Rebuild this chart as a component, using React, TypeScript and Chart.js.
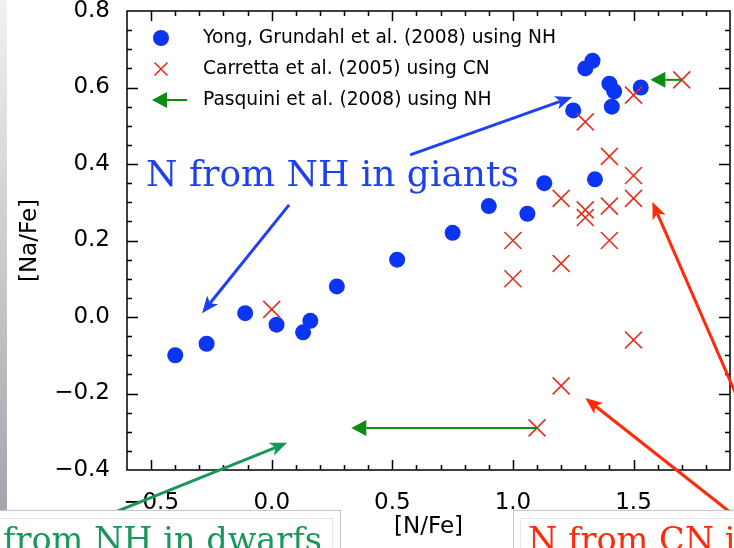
import { useEffect, useRef } from "react";
import { Chart, registerables } from "chart.js";

Chart.register(...registerables);

const W = 734;
const H = 548;

// Yong, Grundahl et al. (2008): [N/Fe] from NH, giants
const yongN = [-0.40, -0.27, -0.11, 0.02, 0.13, 0.16, 0.27, 0.52, 0.75, 0.90, 1.06, 1.13, 1.34, 1.25, 1.30, 1.33, 1.40, 1.42, 1.41, 1.53];
const yongNa = [-0.10, -0.07, 0.01, -0.02, -0.04, -0.01, 0.08, 0.15, 0.22, 0.29, 0.27, 0.35, 0.36, 0.54, 0.65, 0.67, 0.61, 0.59, 0.55, 0.60];

// Carretta et al. (2005): [N/Fe] from CN
const carrettaN = [0.00, 1.00, 1.00, 1.10, 1.20, 1.20, 1.20, 1.30, 1.30, 1.30, 1.40, 1.40, 1.40, 1.50, 1.50, 1.50, 1.50, 1.70];
const carrettaNa = [0.02, 0.20, 0.10, -0.29, 0.31, 0.14, -0.18, 0.51, 0.28, 0.26, 0.42, 0.29, 0.20, 0.58, 0.37, 0.31, -0.06, 0.62];

// Pasquini et al. (2008): upper limits on [N/Fe] from NH in dwarfs
const pasquiniN = [1.70, 1.10];
const pasquiniNa = [0.62, -0.29];
const pasquiniLimitN = [1.57, 0.33];

const seriesLabels = [
  "Yong, Grundahl et al. (2008) using NH",
  "Carretta et al. (2005) using CN",
  "Pasquini et al. (2008) using NH",
];

const xRange = [-0.6, 1.9];
const yRange = [-0.4, 0.8];
const xMajorTicks = [-0.5, 0.0, 0.5, 1.0, 1.5];
const yMajorTicks = [-0.4, -0.2, 0.0, 0.2, 0.4, 0.6, 0.8];
const xMinorStep = 0.1;
const yMinorStep = 0.05;

const noteGiants = "N from NH in giants";
const noteDwarfs = "from NH in dwarfs";
const noteCN = "N from CN in giants";

const BLUE_DOT = "#0b35f2";
const RED_CROSS = "#e3301f";
const GREEN_LIMIT = "#0c8c12";
const NOTE_BLUE = "#1f40f2";
const NOTE_GREEN = "#17975a";
const NOTE_RED = "#ff2a0a";

const SANS = '"DejaVu Sans", sans-serif';
const SERIF = '"DejaVu Serif", serif';

// callout arrows, in data units (they may run past the frame)
type Callout = { from: [number, number]; to: [number, number]; color: string };
const callouts: Callout[] = [
  { from: [0.072, 0.293], to: [-0.289, 0.01], color: NOTE_BLUE },
  { from: [0.574, 0.424], to: [1.246, 0.575], color: NOTE_BLUE },
  { from: [-0.65, -0.51], to: [0.064, -0.329], color: NOTE_GREEN },
  { from: [1.944, -0.23], to: [1.578, 0.301], color: NOTE_RED },
  { from: [1.94, -0.53], to: [1.3, -0.212], color: NOTE_RED },
];

const fmt = (v: number) => (v < -1e-9 ? "\u2212" : "") + Math.abs(v).toFixed(1);

function fitSize(ctx: CanvasRenderingContext2D, text: string, family: string, target: number) {
  ctx.font = `100px ${family}`;
  return (100 * target) / ctx.measureText(text).width;
}

function drawArrow(
  ctx: CanvasRenderingContext2D,
  x1: number, y1: number, x2: number, y2: number,
  color: string, lw: number, headLen: number, headHalf: number, notch: number
) {
  const a = Math.atan2(y2 - y1, x2 - x1);
  const c = Math.cos(a);
  const s = Math.sin(a);
  const bx = x2 - headLen * c;
  const by = y2 - headLen * s;
  const nx = x2 - headLen * notch * c;
  const ny = y2 - headLen * notch * s;
  ctx.save();
  ctx.strokeStyle = color;
  ctx.fillStyle = color;
  ctx.lineWidth = lw;
  ctx.beginPath();
  ctx.moveTo(x1, y1);
  ctx.lineTo(nx, ny);
  ctx.stroke();
  ctx.beginPath();
  ctx.moveTo(x2, y2);
  ctx.lineTo(bx - headHalf * s, by + headHalf * c);
  ctx.lineTo(nx, ny);
  ctx.lineTo(bx + headHalf * s, by - headHalf * c);
  ctx.closePath();
  ctx.fill();
  ctx.restore();
}

const slidePlugin = {
  id: "slide",
  beforeDraw(chart: any) {
    const ctx: CanvasRenderingContext2D = chart.ctx;
    ctx.save();
    ctx.fillStyle = "#fff";
    ctx.fillRect(0, 0, W, H);
    const g = ctx.createLinearGradient(0, 0, 0, 510);
    g.addColorStop(0, "#f1f1f3");
    g.addColorStop(1, "#a4a4ab");
    ctx.fillStyle = g;
    ctx.fillRect(0, 0, 7, 510);
    ctx.restore();
  },
  afterDatasetsDraw(chart: any) {
    const ctx: CanvasRenderingContext2D = chart.ctx;
    const xs = chart.scales.x;
    const ys = chart.scales.y;
    pasquiniN.forEach((n, i) => {
      const y = ys.getPixelForValue(pasquiniNa[i]);
      drawArrow(ctx, xs.getPixelForValue(n), y, xs.getPixelForValue(pasquiniLimitN[i]), y, GREEN_LIMIT, 2, 15, 8, 1);
    });
  },
  afterDraw(chart: any) {
    const ctx: CanvasRenderingContext2D = chart.ctx;
    const xs = chart.scales.x;
    const ys = chart.scales.y;
    const { left, right, top, bottom } = chart.chartArea;

    ctx.save();
    // frame and inward ticks on all four sides
    ctx.strokeStyle = "#000";
    ctx.lineWidth = 1.5;
    ctx.strokeRect(left, top, right - left, bottom - top);
    ctx.beginPath();
    for (let i = 1; ; i++) {
      const v = xRange[0] + i * xMinorStep;
      if (v > xRange[1] - 1e-6) break;
      const len = xMajorTicks.some((m) => Math.abs(m - v) < 1e-6) ? 10 : 5;
      const p = Math.round(xs.getPixelForValue(v)) + 0.5;
      ctx.moveTo(p, bottom);
      ctx.lineTo(p, bottom - len);
      ctx.moveTo(p, top);
      ctx.lineTo(p, top + len);
    }
    for (let i = 1; ; i++) {
      const v = yRange[0] + i * yMinorStep;
      if (v > yRange[1] - 1e-6) break;
      const len = yMajorTicks.some((m) => Math.abs(m - v) < 1e-6) ? 11 : 5;
      const p = Math.round(ys.getPixelForValue(v)) + 0.5;
      ctx.moveTo(left, p);
      ctx.lineTo(left + len, p);
      ctx.moveTo(right, p);
      ctx.lineTo(right - len, p);
    }
    ctx.stroke();

    // legend inside the frame
    const rows = [38, 69, 100];
    const symX = 161;
    const legSize = fitSize(ctx, seriesLabels[1], SANS, 287);
    ctx.fillStyle = BLUE_DOT;
    ctx.beginPath();
    ctx.arc(symX, rows[0], 8, 0, Math.PI * 2);
    ctx.fill();
    ctx.strokeStyle = RED_CROSS;
    ctx.lineWidth = 1.6;
    ctx.beginPath();
    ctx.moveTo(symX - 6.5, rows[1] - 6.5);
    ctx.lineTo(symX + 6.5, rows[1] + 6.5);
    ctx.moveTo(symX + 6.5, rows[1] - 6.5);
    ctx.lineTo(symX - 6.5, rows[1] + 6.5);
    ctx.stroke();
    drawArrow(ctx, 187, rows[2], 152, rows[2], GREEN_LIMIT, 2, 15, 8, 1);
    ctx.fillStyle = "#000";
    ctx.font = `${legSize}px ${SANS}`;
    ctx.textAlign = "left";
    ctx.textBaseline = "middle";
    chart.data.datasets.forEach((d: any, i: number) => ctx.fillText(d.label, 203, rows[i]));

    // callout arrows
    callouts.forEach((c) => {
      drawArrow(
        ctx,
        xs.getPixelForValue(c.from[0]), ys.getPixelForValue(c.from[1]),
        xs.getPixelForValue(c.to[0]), ys.getPixelForValue(c.to[1]),
        c.color, 3, 17, 7, 0.75
      );
    });

    // callout captions
    const noteSize = fitSize(ctx, noteGiants, SERIF, 373);
    ctx.font = `${noteSize}px ${SERIF}`;
    ctx.textBaseline = "alphabetic";
    ctx.fillStyle = NOTE_BLUE;
    ctx.fillText(noteGiants, 146, 186);

    // caption boxes along the bottom edge
    const box = (x: number, w: number) => {
      ctx.fillStyle = "#fff";
      ctx.fillRect(x, 510, w, 60);
      ctx.lineWidth = 1;
      ctx.strokeStyle = "#c6c6c6";
      ctx.strokeRect(x + 0.5, 510.5, w, 60);
    };
    box(-12, 352);
    box(513, 260);
    ctx.strokeStyle = "#e8e8e8";
    ctx.strokeRect(-11.5, 518.5, 344, 60);
    ctx.strokeRect(520.5, 518.5, 260, 60);

    const boxSize = fitSize(ctx, noteDwarfs, SERIF, 319);
    ctx.font = `${boxSize}px ${SERIF}`;
    ctx.fillStyle = NOTE_GREEN;
    ctx.fillText(noteDwarfs, 3, 551);
    ctx.fillStyle = NOTE_RED;
    ctx.fillText(noteCN, 528, 551);
    ctx.restore();
  },
};

export default function App() {
  const ref = useRef<HTMLCanvasElement>(null);

  useEffect(() => {
    const canvas = ref.current;
    if (!canvas) return;
    const tickFont = { family: SANS, size: 23 };
    const chart = new Chart(canvas, {
      type: "scatter",
      data: {
        datasets: [
          {
            label: seriesLabels[0],
            data: yongN.map((x, i) => ({ x, y: yongNa[i] })),
            pointStyle: "circle",
            pointRadius: 8,
            backgroundColor: BLUE_DOT,
            borderWidth: 0,
            order: 1,
          },
          {
            label: seriesLabels[1],
            data: carrettaN.map((x, i) => ({ x, y: carrettaNa[i] })),
            pointStyle: "crossRot",
            pointRadius: 12,
            borderColor: RED_CROSS,
            backgroundColor: RED_CROSS,
            borderWidth: 1.6,
            order: 0,
          },
          {
            label: seriesLabels[2],
            data: pasquiniN.map((x, i) => ({ x, y: pasquiniNa[i] })),
            pointRadius: 0,
            borderColor: GREEN_LIMIT,
            backgroundColor: GREEN_LIMIT,
            order: 0,
          },
        ],
      },
      options: {
        responsive: false,
        animation: false,
        devicePixelRatio: 1,
        layout: { autoPadding: false, padding: { left: 0, right: 4, top: 11, bottom: 0 } },
        plugins: { legend: { display: false }, tooltip: { enabled: false } },
        scales: {
          x: {
            type: "linear",
            position: "bottom",
            min: xRange[0],
            max: xRange[1],
            grid: { display: false },
            border: { display: false },
            afterBuildTicks: (s: any) => {
              s.ticks = xMajorTicks.map((value) => ({ value }));
            },
            afterFit: (s: any) => {
              s.height = 78;
              s.paddingLeft = 0;
              s.paddingRight = 0;
            },
            ticks: {
              padding: 11,
              color: "#000",
              font: tickFont,
              maxRotation: 0,
              autoSkip: false,
              callback: (v: any) => fmt(Number(v)),
            },
            title: {
              display: true,
              text: "[N/Fe]",
              color: "#000",
              font: tickFont,
              padding: { top: 0, bottom: 7 },
            },
          },
          y: {
            type: "linear",
            position: "left",
            min: yRange[0],
            max: yRange[1],
            grid: { display: false },
            border: { display: false },
            afterBuildTicks: (s: any) => {
              s.ticks = yMajorTicks.map((value) => ({ value }));
            },
            afterFit: (s: any) => {
              s.width = 127;
              s.paddingTop = 0;
              s.paddingBottom = 0;
            },
            ticks: {
              padding: 9,
              color: "#000",
              font: tickFont,
              autoSkip: false,
              callback: (v: any) => fmt(Number(v)),
            },
            title: {
              display: true,
              text: "[Na/Fe]",
              color: "#000",
              font: tickFont,
              padding: { top: 16, bottom: 0 },
            },
          },
        },
      },
      plugins: [slidePlugin],
    });
    return () => chart.destroy();
  }, []);

  return (
    <div style={{ position: "fixed", left: 0, top: 0, width: W, height: H, overflow: "hidden", background: "#fff" }}>
      <canvas ref={ref} width={W} height={H} style={{ display: "block", width: W, height: H }} />
    </div>
  );
}
